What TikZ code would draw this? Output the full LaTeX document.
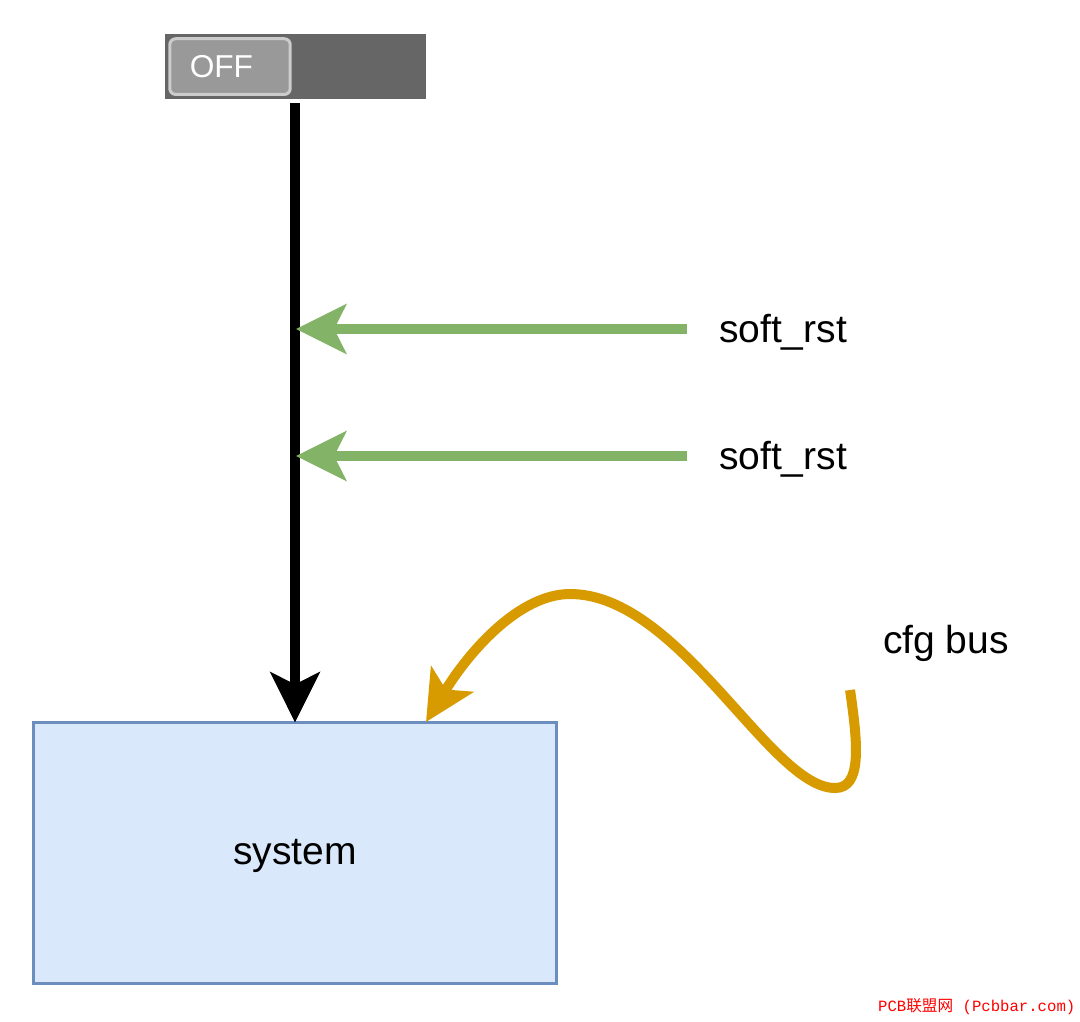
\documentclass[tikz,border=0pt]{standalone}
\usepackage{fontspec}
\setmainfont{Liberation Sans}
\newfontfamily\cjk{Noto Sans CJK SC}
\newfontfamily\wmfont{Liberation Mono}
\usetikzlibrary{arrows.meta}
\definecolor{sysfill}{HTML}{DAE8FC}
\definecolor{sysdraw}{HTML}{6C8EBF}
\definecolor{rstgreen}{HTML}{82B366}
\definecolor{cfgorange}{HTML}{D79B00}
\tikzset{
    bigtip/.style={-{Stealth[length=0.5cm, width=0.49cm, inset=0.12cm]}, line width=0.1cm},
    labeltext/.style={text height=0.34cm, text depth=0.07cm, font=\fontsize{11.1}{13}\selectfont},
    siglabel/.style={labeltext, anchor=west, inner xsep=0.32cm, inner ysep=0pt, outer sep=0pt},
}
\begin{document}
\begin{tikzpicture}[x=0.01cm, y=-0.01cm]
    \useasboundingbox (0,0) rectangle (1080,1021);
    % switch at the top
    \node[fill=black!60, minimum width=2.61cm, minimum height=0.65cm, inner sep=0pt, outer sep=0pt] (offswitch) at (295.5,66.5) {};
    \node[fill=black!40, draw=black!20, line width=0.03cm, rounded corners=0.06cm, minimum height=0.557cm, text width=0.804cm, inner xsep=0.2cm, inner ysep=0pt, align=left, text=white, font=\fontsize{9}{11}\selectfont] (offbtn) at (230,66.6) {OFF};
    % system block
    \node[labeltext, text height=0.30cm, fill=sysfill, draw=sysdraw, line width=0.03cm, minimum width=5.22cm, minimum height=2.61cm, inner sep=0pt, outer sep=0pt] (system) at (295,853) {system};
    \draw[bigtip, black, shorten <=0.04cm] (offswitch.south -| system.north) -- (system.north);
    % reset signals
    \node[siglabel] (softa) at (687,329) {soft\_rst};
    \node[siglabel] (softb) at (687,456) {soft\_rst};
    \coordinate (jointa) at (296,329);
    \coordinate (jointb) at (296,456);
    \draw[bigtip, rstgreen] (softa.west) -- (jointa);
    \draw[bigtip, rstgreen] (softb.west) -- (jointb);
    % config bus
    \node[labeltext, inner sep=0pt] (cfg) at (946,640) {cfg bus};
    \coordinate (cfgstart) at (850,690);
    \coordinate (cfgend) at (426,722);
    \draw[bigtip, cfgorange] (cfgstart) .. controls (858,745) and (862,788) .. (835,788) .. controls (770,788) and (680,594) .. (570,594) .. controls (520,594) and (470,650) .. (cfgend);
    % watermark
    \node[anchor=east, inner sep=0pt, text=red, font=\fontsize{4.45}{6}\selectfont] (wmark) at (1076,1007) {\wmfont PCB{\cjk 联盟网} (Pcbbar.com)};
\end{tikzpicture}
\end{document}
